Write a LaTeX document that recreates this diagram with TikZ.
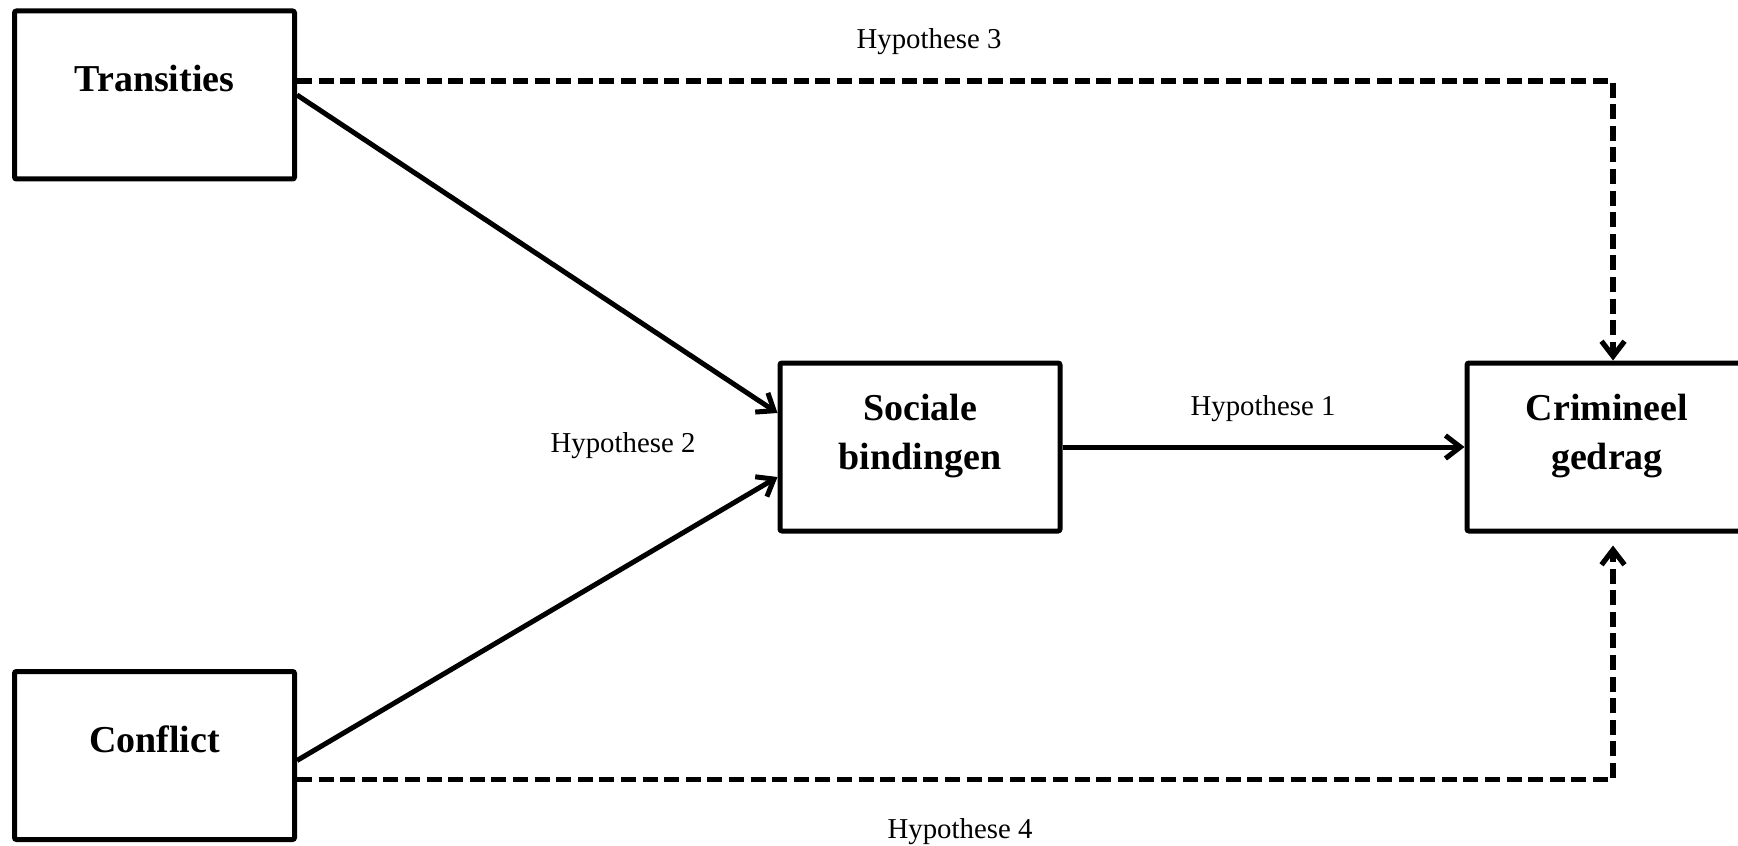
\documentclass[tikz,border=0pt]{standalone}
\usepackage{fontspec}
\setmainfont{Liberation Serif}
\usetikzlibrary{arrows.meta,calc}
\begin{document}
\begin{tikzpicture}[x=0.5pt,y=-0.5pt,
  box/.style={draw, line width=2.5pt, rounded corners=1pt, inner sep=0pt,
              minimum width=140pt, minimum height=84pt},
  lbl/.style={font=\fontsize{19}{24.5}\selectfont\bfseries, align=center, inner sep=0pt},
  hyp/.style={font=\fontsize{14.4}{17}\selectfont, inner sep=0pt},
  conn/.style={line width=2.5pt, -{Straight Barb[length=7.5pt,width=11.5pt]}},
  dashconn/.style={conn, line width=2.6pt, dash pattern=on 7.5pt off 3.3pt}
]
\useasboundingbox (0,0) rectangle (1738,845);
% boxes
\node[box] (t) at (154.5,95) {};
\node[box] (c) at (154.5,755.5) {};
\node[box] (s) at (920,447) {};
\node[box] (k) at (1607,447) {};
% box texts
\node[lbl, anchor=base] (tt) at (154.5,92) {Transities};
\node[lbl, anchor=base] (ct) at (154.5,752) {Conflict};
\node[lbl] (st) at (920,436) {Sociale\\bindingen};
\node[lbl] (kt) at (1607,436) {Crimineel\\gedrag};
% connectors
\draw[conn] (t.east) -- ($(s.west)+(0,-34)$);
\draw[conn] ($(c.east)+(0,5)$) -- ($(s.west)+(0,30)$);
\draw[conn] (s.east) -- (k.west);
\draw[dashconn] ($(t.east)+(0,-14)$) -| ($(k.north)+(6,0)$);
\draw[dashconn] ($(c.east)+(0,24)$) -| ($(k.south)+(6,12)$);
% labels
\node[hyp] (h1) at (1263,408.5) {Hypothese 1};
\node[hyp] (h2) at (623,446) {Hypothese 2};
\node[hyp] (h3) at (929,41.5) {Hypothese 3};
\node[hyp] (h4) at (960,831.5) {Hypothese 4};
\end{tikzpicture}
\end{document}
